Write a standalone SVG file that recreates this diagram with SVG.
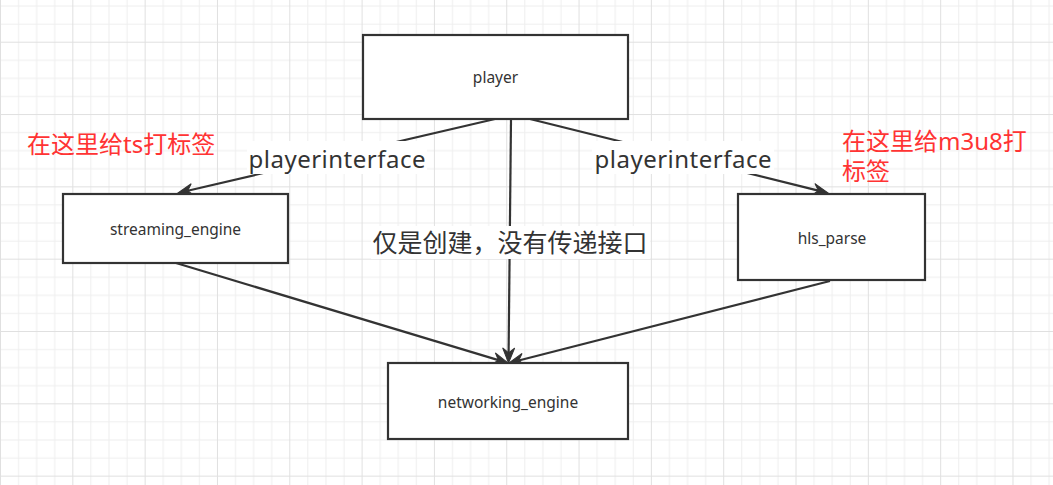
<svg xmlns="http://www.w3.org/2000/svg" width="1053" height="485" viewBox="0 0 1053 485">
<defs>
<pattern id="grid" patternUnits="userSpaceOnUse" x="0" y="-30.6" width="72.32" height="72.32">
<path d="M18.58,0 V72.32 M36.66,0 V72.32 M54.74,0 V72.32 M0,18.58 H72.32 M0,36.66 H72.32 M0,54.74 H72.32" stroke="#eeeeee" stroke-width="1" fill="none"/>
<path d="M0.5,0 V72.32 M0,0.5 H72.32" stroke="#e0e0e0" stroke-width="1" fill="none"/>
</pattern>
<marker id="arr" markerUnits="userSpaceOnUse" viewBox="-6 -8 18 16" markerWidth="18" markerHeight="16" refX="0" refY="0" orient="auto" overflow="visible">
<path d="M10,0 L-5,-6 L0,0 L-5,6 Z" fill="#333333" stroke="#333333" stroke-width="1" stroke-linejoin="miter"/>
</marker>
</defs>
<style>
.box{fill:#ffffff;stroke:#333333;stroke-width:2.2}
.lbl{font-family:"Noto Sans","Liberation Sans",sans-serif;font-size:15.5px;fill:#333333;text-anchor:middle}
.edge{fill:none;stroke:#333333;stroke-width:2.2;marker-end:url(#arr)}
.ebg{fill:#ffffff}
.etxt{font-family:"Noto Sans","Noto Sans CJK SC",sans-serif;font-size:24px;fill:#333333;text-anchor:middle}
.red{font-family:"Noto Sans","Noto Sans CJK SC",sans-serif;font-size:24px;fill:#ff3333}
</style>
<rect width="1053" height="485" fill="#ffffff"/>
<rect width="1053" height="485" fill="url(#grid)"/>

<g id="connectors">
<path class="edge" d="M495,119 L187.7,190.7"/>
<path class="edge" d="M530,119 L818.3,190.6"/>
<path class="edge" d="M511,119 L508.6,353"/>
<path class="edge" d="M176,263 L498.4,360.1"/>
<path class="edge" d="M830,281 L518.7,360.5"/>
<g id="label-left">
<rect class="ebg" x="247" y="141" width="180" height="33"/>
<text class="etxt" x="337" y="168" textLength="177" lengthAdjust="spacing">playerinterface</text>
</g>
<g id="label-right">
<rect class="ebg" x="592" y="141" width="182" height="33"/>
<text class="etxt" x="683" y="168" textLength="177" lengthAdjust="spacing">playerinterface</text>
</g>
<g id="label-center">
<rect class="ebg" x="371" y="226" width="279" height="33"/>
<text class="etxt" x="510" y="252" style="font-family:'Noto Sans CJK SC',sans-serif;font-size:25px">仅是创建，没有传递接口</text>
</g>
</g>

<g id="player">
<rect class="box" x="363" y="35" width="265" height="84"/>
<text class="lbl" x="495.5" y="83">player</text>
</g>
<g id="streaming_engine">
<rect class="box" x="63" y="194" width="225" height="69"/>
<text class="lbl" x="175.5" y="235">streaming_engine</text>
</g>
<g id="hls_parse">
<rect class="box" x="738" y="194" width="187" height="86"/>
<text class="lbl" x="832" y="244">hls_parse</text>
</g>
<g id="networking_engine">
<rect class="box" x="388" y="363" width="240" height="76"/>
<text class="lbl" x="508" y="408">networking_engine</text>
</g>

<g id="note-ts">
<text class="red" x="27" y="153">在这里给ts打标签</text>
</g>
<g id="note-m3u8">
<text class="red" x="842" y="150">在这里给m3u8打</text>
<text class="red" x="842" y="180">标签</text>
</g>
</svg>
